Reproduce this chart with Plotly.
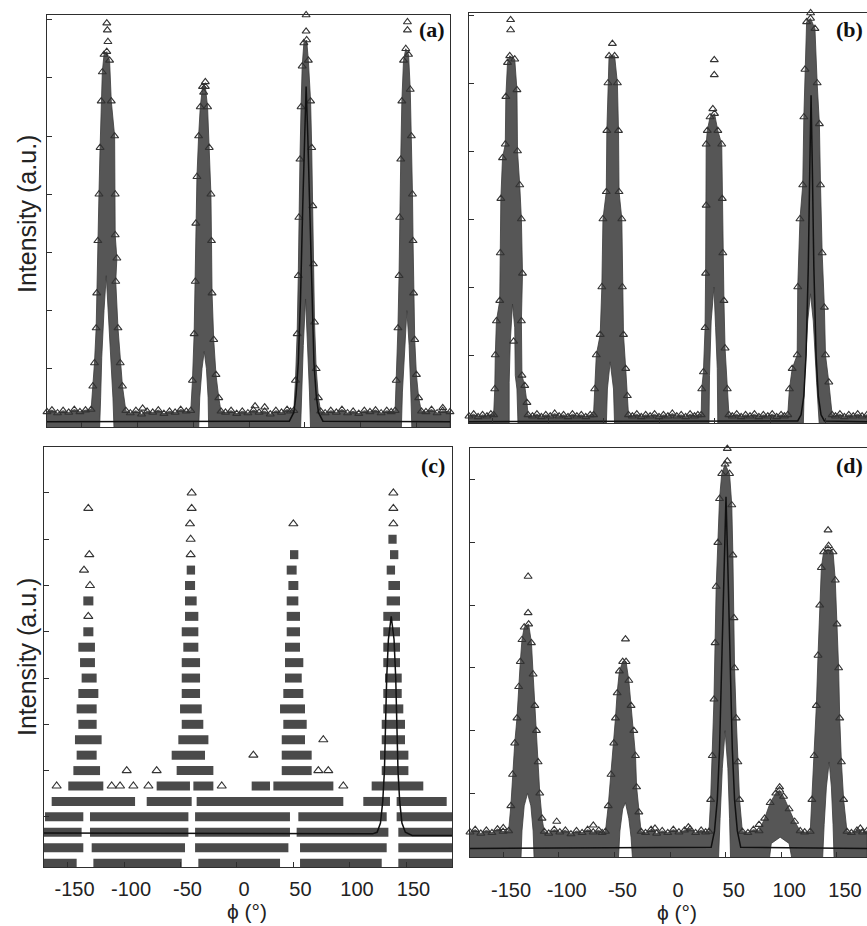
import plotly.graph_objects as go

# ---------------- panel (a): envelope of the dense scan (phi, I) ----------------
a_upper = [(-180.4,0.26),(-176,0.29),(-171,0.24),(-166,0.28),(-161,0.25),(-156,0.3),(-151,0.26),(-146,0.29),
    (-141,0.3),(-139.5,0.7),(-138,1.1),(-136.5,1.7),(-136,2.3),(-135,3.2),(-134,4.0),(-133,4.8),(-132,5.6),(-131,6.1),
    (-129.5,6.4),(-127,6.45),(-124.5,6.3),(-123,5.6),(-120,5.0),(-119.5,4.0),(-119.5,3.3),(-118,2.9),(-119,2.5),
    (-117,1.7),(-115,1.1),(-113,0.7),(-110,0.28),
    (-106,0.24),(-101,0.28),(-96,0.22),(-91,0.27),(-86,0.25),(-81,0.29),(-76,0.23),(-71,0.27),(-66,0.25),(-61,0.3),(-56,0.27),
    (-52,0.28),(-50.5,0.8),(-49,1.6),(-48,2.5),(-47.5,3.5),(-46.5,4.3),(-45,5.0),(-43.5,5.5),(-41.5,5.85),(-39,5.85),
    (-37,5.5),(-35.5,4.8),(-34,4.0),(-33.5,3.2),(-33,2.3),(-31.5,1.5),(-29.5,0.9),(-27,0.5),(-25,0.27),
    (-21,0.25),(-16,0.28),(-11,0.23),(-6,0.27),(-1,0.24),(4,0.29),(9,0.25),(14,0.27),(19,0.22),(24,0.28),(29,0.25),(34,0.3),(37,0.27),
    (40,0.28),(41.5,0.8),(43,1.6),(44,2.6),(44.5,3.6),(45.5,4.6),(46.5,5.5),(47.5,6.2),(49,6.6),(51.5,6.65),(53,6.3),
    (55,5.6),(56,4.8),(57,3.8),(57.5,2.8),(58.5,1.8),(60,1.0),(62,0.5),(64,0.27),
    (68,0.24),(73,0.28),(78,0.25),(83,0.3),(88,0.24),(93,0.27),(98,0.23),(103,0.28),(108,0.26),(113,0.29),(118,0.24),(123,0.28),(127,0.26),
    (130.5,0.28),(131.5,0.8),(133,1.7),(134,2.6),(134.5,3.6),(135.5,4.6),(136.5,5.6),(138,6.3),(140,6.5),(142.5,6.4),
    (144,5.8),(145,5.0),(146,4.0),(146.5,3.2),(147,2.3),(148,1.5),(149.5,0.9),(151.5,0.5),(154,0.27),
    (158,0.26),(163,0.3),(168,0.24),(173,0.28),(179.5,0.26)]
a_lower = [(-180.4,-0.06),(-133.5,-0.06),(-132.5,0.5),(-131.5,1.2),(-129.5,2.0),(-127.5,2.6),(-125.5,2.0),(-123.5,1.2),
    (-121.5,0.5),(-120.5,-0.06),
    (-45,-0.06),(-44,0.5),(-42,1.0),(-40,1.3),(-38,1.0),(-36.5,0.5),(-36,-0.06),
    (46,-0.06),(47,0.6),(48.5,1.4),(50.5,2.2),(52.5,1.4),(54,0.6),(55,-0.06),
    (136,-0.06),(137,0.6),(139,1.4),(141,2.0),(143,1.4),(144.5,0.6),(145.5,-0.06),(179.5,-0.06)]
a_sparse = [(-127,6.94),(-126.5,6.82),(-126,6.62),(-39,5.93),(-40.5,5.75),(51,7.08),(51,6.8),
    (141.5,6.96),(141.5,6.82),(5.4,0.36),(14,0.34),(173,0.33),(-95,0.32)]
a_fit = [(-180.4,0.09),(36,0.1),(40,0.25),(42,0.55),(44,1.1),(46,2.2),(48,3.8),(49.5,5.0),(51,5.85),(52.5,5.0),
    (54,3.8),(56,2.2),(58,1.1),(60,0.55),(62,0.25),(66,0.1),(179.5,0.09)]

# ---------------- panel (b) ----------------
b_upper = [(-171.2,0.1),(-167,0.13),(-163,0.09),(-159,0.12),(-155,0.1),(-151.5,0.13),
    (-149,0.12),(-148,0.5),(-147.5,1.0),(-146.5,1.5),(-143.5,1.8),(-143,2.5),(-142.5,3.3),(-141,3.9),(-138.5,4.1),
    (-138,4.8),(-136.5,5.3),(-134.5,5.4),(-130,5.35),(-128,4.9),(-127.5,4.0),(-125.5,3.5),(-124,3.0),(-123,2.2),
    (-124,1.5),(-123.5,0.7),(-121,0.55),(-119,0.3),(-118,0.12),
    (-114,0.1),(-110,0.13),(-106,0.09),(-102,0.12),(-98,0.1),(-94,0.14),(-90,0.1),(-86,0.12),(-82,0.09),(-78,0.13),
    (-74,0.1),(-70,0.12),(-66,0.09),(-62,0.12),
    (-59,0.12),(-58,0.5),(-56.5,1.0),(-53,1.3),(-51.5,2.0),(-50.5,3.0),(-47.5,3.4),(-47,4.3),(-46,5.0),(-45,5.4),
    (-40,5.4),(-37.5,5.0),(-36.5,4.3),(-36,3.4),(-33.5,3.0),(-33,2.0),(-32,1.3),(-30,0.8),(-28.5,0.4),(-27.5,0.12),
    (-24,0.1),(-20,0.13),(-16,0.09),(-12,0.12),(-8,0.1),(-4,0.13),(0,0.09),(4,0.12),(8,0.1),(12,0.14),(16,0.1),
    (20,0.12),(24,0.09),(28,0.13),(32,0.1),(35,0.12),
    (38,0.12),(38.5,0.5),(40,0.75),(41.5,1.4),(42,2.2),(42.5,3.2),(42.5,4.1),(43.5,4.3),(46,4.5),(50,4.55),(53,4.3),
    (56.5,4.1),(57,3.3),(57.5,2.5),(58.5,1.8),(59.5,1.1),(61.5,0.5),(63,0.12),
    (66,0.1),(70,0.13),(74,0.09),(78,0.12),(82,0.1),(86,0.13),(90,0.09),(94,0.12),(98,0.1),(102,0.13),(106,0.09),
    (110,0.12),(113,0.1),
    (116,0.12),(117.5,0.5),(120,0.8),(124.5,1.0),(125,2.0),(127,3.0),(129.5,3.5),(130.5,4.5),(131.5,5.2),(133,5.9),
    (136.5,5.95),(140.5,5.8),(142.5,5.0),(144.5,4.4),(145.5,3.5),(147,2.5),(149,1.7),(150,1.0),(153,0.6),(156,0.12),
    (159,0.1),(163,0.13),(167,0.09),(171,0.12),(175,0.1),(179,0.13),(183,0.1),(187.4,0.12)]
b_lower = [(-171.2,-0.05),(-135,-0.05),(-135,0.6),(-134,1.2),(-132,1.75),(-130,1.4),(-129.5,0.7),(-128,0.5),(-127,-0.05),
    (-47.5,-0.05),(-46.5,0.5),(-44,0.9),(-41,0.5),(-40,-0.05),
    (45,-0.05),(45.5,0.7),(47,1.5),(49.5,2.0),(51,1.4),(52.5,0.8),(53,-0.05),
    (130,-0.05),(131,0.6),(134,1.5),(136.5,1.9),(139,1.5),(142,0.6),(144.5,-0.05),(187.4,-0.05)]
b_sparse = [(-133.7,5.93),(-133.7,5.78),(-42,5.58),(49.8,5.34),(49.8,5.12),(48.5,4.62),(136.6,6.03),(-131,1.2)]
b_fit = [(-171.2,0.02),(125,0.03),(128,0.12),(130.5,0.4),(132.5,1.0),(134.5,2.3),(135.8,3.7),(137,4.82),(138.2,3.7),
    (139.5,2.3),(141.5,1.0),(143.5,0.4),(146,0.12),(149,0.03),(187.4,0.02)]

# ---------------- panel (c): integer counts, runs of points per count level ----------------
c_runs = [(0,-172.9,-141.9),(0,-127.1,-48.9),(0,-34.2,38.1),(0,55.8,128.1),(0,142.8,190.3),
    (1,-172.9,-136.0),(1,-128.6,-46.0),(1,-37.1,45.5),(1,55.8,132.5),(1,142.8,190.3),
    (2,-171.4,-137.5),(2,-130.1,-43.0),(2,-37.1,46.9),(2,52.8,134.0),(2,142.8,190.3),
    (3,-169.9,-136.0),(3,-130.1,-43.0),(3,-37.1,46.9),(3,54.3,132.5),(3,141.3,190.3),
    (4,-164.0,-90.2),(4,-79.9,-40.1),(4,-35.7,94.1),(4,111.8,135.4),(4,141.3,185.6),
    (5,-149.3,-118.3),(5,-71.1,-41.6),(5,-38.6,-20.9),(5,13.0,29.2),(5,32.2,85.3),(5,119.2,164.9),
    (6,-144.8,-121.2),(6,-53.4,-20.9),(6,39.6,66.1),(6,128.1,151.7),
    (7,-141.9,-124.2),(7,-57.8,-28.3),(7,39.6,66.1),(7,126.6,151.7),
    (8,-143.4,-119.8),(8,-51.9,-25.3),(8,39.6,60.2),(8,128.1,148.7),
    (9,-140.4,-124.2),(9,-48.9,-29.8),(9,41.0,61.7),(9,128.1,148.7),
    (10,-141.9,-124.2),(10,-50.4,-31.2),(10,38.1,60.2),(10,129.5,147.2),
    (11,-140.4,-122.7),(11,-48.9,-32.7),(11,41.0,58.7),(11,129.5,145.8),
    (12,-137.5,-124.2),(12,-48.9,-32.7),(12,42.5,57.3),(12,131.0,145.8),
    (13,-138.9,-125.7),(13,-48.9,-32.7),(13,42.5,58.7),(13,129.5,144.3),
    (14,-140.4,-125.7),(14,-47.5,-34.2),(14,42.5,55.8),(14,129.5,144.3),
    (15,-136.0,-127.1),(15,-48.9,-34.2),(15,44.0,55.8),(15,129.5,144.3),
    (16,-46.0,-34.2),(16,44.0,55.8),(16,129.5,144.3),
    (17,-136.0,-127.1),(17,-46.0,-35.7),(17,44.0,54.3),(17,132.5,144.3),
    (18,-46.0,-37.1),(18,45.5,54.3),(18,134.0,144.3),
    (19,-44.5,-37.1),(19,44.0,52.8),(19,132.5,139.9),
    (20,46.9,54.3),(20,135.4,142.8),
    (21,134.0,141.3)]
c_single = [(5,-159.6),(5,-110.9),(5,-103.5),(5,-91.7),(5,-78.4),(5,-13.5),(5,94.1),
    (6,-97.6),(6,-71.1),(6,72.0),(6,80.8),(7,14.5),(8,76.4),
    (16,-131.6),(18,-130.1),(19,-135.4),(20,-130.7),(20,-41.0),(21,-41.0),
    (22,-41.6),(22,49.9),(22,138.4),(23,-131.6),(23,-40.1),(23,138.4),(24,-40.1),(24,138.4),(27,138.4)]
c_fit = [(-170.8,1.95),(120,1.9),(124,2.0),(127,2.6),(129,4.0),(130.5,6.0),(131.5,9.0),(132.5,12.0),(134,14.5),
    (136.5,16.0),(139,14.5),(140.5,12.0),(141.5,9.0),(142.5,6.0),(144,4.0),(146,2.6),(149,2.0),(155,1.8),(190.3,1.8)]

# ---------------- panel (d) ----------------
d_upper = [(-179.7,0.38),(-175,0.42),(-170,0.36),(-165,0.41),(-160,0.37),(-155,0.43),(-150,0.39),
    (-145,0.4),(-143,0.8),(-141.5,1.3),(-139.5,1.8),(-137.5,2.2),(-136,2.7),(-134.5,3.1),(-133,3.45),(-131,3.65),
    (-127,3.7),(-124.5,3.4),(-123,2.9),(-121.5,2.4),(-120,2.0),(-118.5,1.5),(-117,1.0),(-115,0.6),(-113,0.39),
    (-109,0.36),(-104,0.42),(-99,0.38),(-94,0.41),(-89,0.35),(-84,0.4),(-79,0.37),(-74,0.42),(-69,0.38),(-64,0.41),(-61,0.37),
    (-58,0.39),(-55.5,0.8),(-53,1.3),(-50.5,1.8),(-49,2.2),(-47.5,2.6),(-45.5,2.95),(-42.5,3.1),(-39.5,3.1),(-37,2.8),
    (-35,2.4),(-32.5,2.0),(-31,1.6),(-30,1.1),(-28,0.7),(-26,0.39),
    (-22,0.37),(-17,0.42),(-12,0.36),(-7,0.4),(-2,0.37),(3,0.42),(8,0.38),(13,0.41),(18,0.43),(23,0.37),(28,0.41),(32,0.38),
    (35,0.39),(36.5,0.9),(38,1.6),(39.5,2.5),(40.5,3.4),(41.5,4.3),(43,5.0),(44.5,5.7),(46.5,6.1),(49.5,6.25),(53.5,6.1),
    (55.5,5.6),(56.5,4.8),(57.5,3.8),(58,3.0),(59.5,2.2),(61,1.5),(62.5,0.9),(65,0.39),
    (70,0.37),(75,0.42),
    (80,0.4),(85,0.6),(90,0.85),(95,1.0),(98.5,1.05),(102,0.95),(107,0.75),(112,0.55),(117,0.4),
    (121,0.38),
    (126,0.39),(127.5,0.9),(129.5,1.6),(131.5,2.4),(133,3.2),(134.5,4.0),(136,4.6),(138,4.85),(142,4.9),(146.5,4.85),
    (148.5,4.4),(150,3.7),(151.5,3.0),(152.5,2.2),(154,1.5),(156,0.9),(159,0.39),
    (163,0.37),(168,0.41),(173,0.38),(177,0.4)]
d_lower = [(-179.7,-0.09),(-134,-0.09),(-133,0.4),(-131,0.8),(-128,1.0),(-125,0.8),(-123,0.4),(-122,-0.09),
    (-46.5,-0.09),(-45,0.4),(-42.5,0.75),(-40,0.85),(-37,0.6),(-35,0.3),(-33.5,-0.09),
    (43.5,-0.09),(45,0.6),(47,1.4),(49.5,2.0),(52,1.4),(53.5,0.6),(54.5,-0.09),
    (89,-0.09),(91,0.2),(99,0.3),(107,0.2),(110,-0.09),
    (137,-0.09),(138.5,0.5),(140.5,1.1),(143,1.5),(145,1.1),(146.5,0.5),(147.5,-0.09),(177,-0.09)]
d_sparse = [(-127.5,4.46),(-127.5,3.88),(-40,3.46),(51.5,6.5),(51.5,6.3),(142,5.2),(142.5,4.95),(-101.8,0.55),
    (-68.9,0.49),(-149.8,0.45),(-13.5,0.44),(16.5,0.46),(80,0.5),(171,0.44),(98.5,1.1)]
d_fit = [(-179.7,0.12),(37,0.14),(40,0.4),(42.5,0.9),(44.5,1.7),(46.5,3.0),(48.5,4.6),(50.3,5.73),(52,4.6),(54,3.0),
    (56,1.7),(58,0.9),(60.5,0.4),(63.5,0.14),(177,0.12)]

x_ticks = [-150, -100, -50, 0, 50, 100, 150]
x_ticktext = ["-150", "-100", "-50", "0", "50", "100", "150"]

INK = "#2e2e2e"
FILL = "#565656"
MK = dict(symbol="triangle-up-open", size=7, color="#333333", line=dict(width=1.1, color="#333333"))

def xs(pts):
    return [p[0] for p in pts]

def ys(pts):
    return [p[1] for p in pts]

fig = go.Figure()

def add_cloud(upper, lower, sparse, fit, xa, ya):
    poly = upper + lower[::-1]
    fig.add_trace(go.Scatter(x=xs(poly), y=ys(poly), mode="lines", fill="toself", fillcolor=FILL,
                             line=dict(color="#3a3a3a", width=0.8), xaxis=xa, yaxis=ya, hoverinfo="skip",
                             showlegend=False))
    fig.add_trace(go.Scatter(x=xs(upper), y=ys(upper), mode="markers", marker=MK, xaxis=xa, yaxis=ya,
                             cliponaxis=False, showlegend=False))
    fig.add_trace(go.Scatter(x=xs(sparse), y=ys(sparse), mode="markers", marker=MK, xaxis=xa, yaxis=ya,
                             cliponaxis=False, showlegend=False))
    fig.add_trace(go.Scatter(x=xs(fit), y=ys(fit), mode="lines", line=dict(color="#111111", width=1.5),
                             xaxis=xa, yaxis=ya, showlegend=False))

add_cloud(a_upper, a_lower, a_sparse, a_fit, "x", "y")
add_cloud(b_upper, b_lower, b_sparse, b_fit, "x2", "y2")
add_cloud(d_upper, d_lower, d_sparse, d_fit, "x4", "y4")

# panel (c)
run_x, run_y = [], []
for lvl, s, e in c_runs:
    run_x += [s, e, None]
    run_y += [lvl, lvl, None]
fig.add_trace(go.Scatter(x=run_x, y=run_y, mode="lines", line=dict(color="#4a4a4a", width=9),
                         xaxis="x3", yaxis="y3", showlegend=False, hoverinfo="skip"))
fig.add_trace(go.Scatter(x=[p[1] for p in c_single], y=[p[0] for p in c_single], mode="markers",
                         marker=dict(symbol="triangle-up-open", size=8, color="#333333", line=dict(width=1.1)),
                         xaxis="x3", yaxis="y3", cliponaxis=False, showlegend=False))
fig.add_trace(go.Scatter(x=xs(c_fit), y=ys(c_fit), mode="lines", line=dict(color="#111111", width=1.5),
                         xaxis="x3", yaxis="y3", showlegend=False))

W, H = 867, 926
def px(x):
    return x / W
def py(y):
    return 1 - y / H

base = dict(showline=True, linecolor=INK, linewidth=1.3, showgrid=False, zeroline=False,
            ticks="inside", ticklen=5, tickcolor=INK, tickwidth=1.2)
tickfont = dict(family="Liberation Sans, Arial, sans-serif", size=20, color="#222222")

fig.update_layout(
    width=W, height=H, margin=dict(l=0, r=0, t=0, b=0),
    paper_bgcolor="white", plot_bgcolor="white", showlegend=False,
    xaxis=dict(base, domain=[px(47), px(450)], range=[-180.4, 179.5], tickvals=x_ticks,
               showticklabels=False, mirror=True, anchor="y"),
    yaxis=dict(base, domain=[py(427), py(15)], range=[0, 7.08], tickvals=[1, 2, 3, 4, 5, 6, 7],
               showticklabels=False, mirror=True, anchor="x"),
    xaxis2=dict(base, domain=[px(469), 1.0], range=[-171.2, 187.4], tickvals=x_ticks,
                showticklabels=False, mirror=True, anchor="y2"),
    yaxis2=dict(base, domain=[py(423), py(13)], range=[0, 6.03], tickvals=[1, 2, 3, 4, 5, 6],
                showticklabels=False, anchor="x2"),
    xaxis3=dict(base, domain=[px(44), px(452)], range=[-170.8, 190.3], tickvals=x_ticks, ticktext=x_ticktext,
                tickfont=tickfont, mirror=True, anchor="y3", ticklabelstandoff=4, ticklabelshift=7),
    yaxis3=dict(base, domain=[py(867), py(447)], range=[-0.25, 26.98], tickvals=[3, 6, 9, 12, 15, 18, 21, 24],
                showticklabels=False, mirror=True, anchor="x3"),
    xaxis4=dict(base, domain=[px(470), 1.0], range=[-179.7, 177.0], tickvals=x_ticks, ticktext=x_ticktext,
                tickfont=tickfont, mirror=True, anchor="y4", ticklabelstandoff=15, ticklabelshift=8),
    yaxis4=dict(base, domain=[py(857), py(448)], range=[-0.016, 6.51], tickvals=[1, 2, 3, 4, 5, 6],
                showticklabels=False, anchor="x4"),
)

sans = "Liberation Sans, Arial, sans-serif"
serif = "Liberation Serif, Times New Roman, serif"
ann = []
for txt, x, y in [("(a)", 432, 30), ("(b)", 849, 30), ("(c)", 433, 465), ("(d)", 849, 466)]:
    ann.append(dict(text="<b>%s</b>" % txt, x=px(x), y=py(y), xref="paper", yref="paper", showarrow=False,
                    xanchor="center", yanchor="middle", font=dict(family=serif, size=22, color="#111111")))
for y in [214, 657]:
    ann.append(dict(text="Intensity (a.u.)", x=px(27), y=py(y), xref="paper", yref="paper", showarrow=False,
                    textangle=-90, xanchor="center", yanchor="middle", font=dict(family=sans, size=25, color="#222222")))
for x, y in [(247, 911), (677, 912)]:
    ann.append(dict(text="ϕ (°)", x=px(x), y=py(y), xref="paper", yref="paper", showarrow=False,
                    xanchor="center", yanchor="middle", font=dict(family=sans, size=21, color="#222222")))
fig.update_layout(annotations=ann)

fig.write_html("out.html")
